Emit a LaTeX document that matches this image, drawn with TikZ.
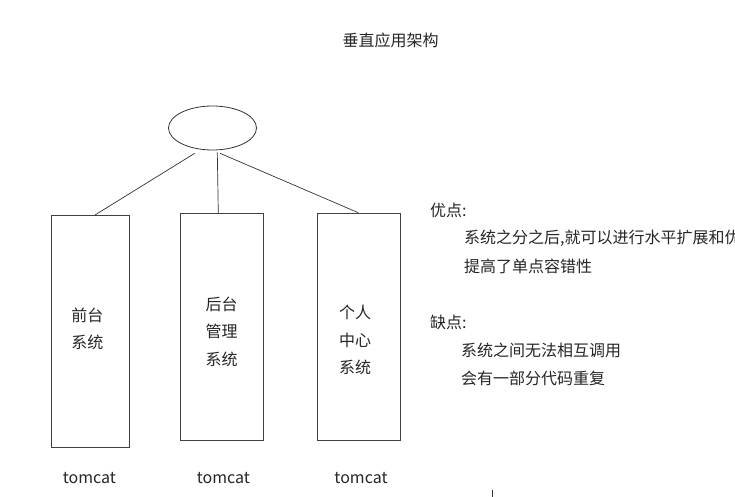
\documentclass[tikz,border=0pt]{standalone}
\usepackage{fontspec}
\setmainfont{Noto Sans CJK SC}
\usetikzlibrary{shapes.geometric}
\begin{document}
\begin{tikzpicture}[x=1pt,y=-1pt,
  sysbox/.style={draw=black!75,line width=0.8pt,rectangle,inner sep=0pt},
  conn/.style={draw=black!80,line width=0.7pt},
  lbl/.style={font=\fontsize{16}{16}\selectfont,text=black!85,inner sep=0pt},
  lbl3/.style={font=\fontsize{16}{27.5}\selectfont,text=black!85,inner sep=0pt,align=center}]
\useasboundingbox[fill=white] (0,0) rectangle (735,497);
\node[lbl] (title) at (390.5,40) {垂直应用架构};
\node[draw=black!80,line width=0.8pt,ellipse,minimum width=88,minimum height=44,inner sep=0pt] (lb) at (212.5,128) {};
\node[sysbox,minimum width=78,minimum height=232] (b1) at (90,331) {};
\node[sysbox,minimum width=83,minimum height=227] (b2) at (221.5,327.2) {};
\node[sysbox,minimum width=83,minimum height=227] (b3) at (358.5,326.4) {};
\coordinate (l1s) at (194.7,153.3);
\coordinate (l2s) at (217.3,152.3);
\coordinate (l3s) at (220,153.3);
\coordinate (l1e) at (95,215);
\coordinate (l2e) at (218.3,213.7);
\coordinate (l3e) at (358.3,212.7);
\draw[conn] (l1s) -- (l1e);
\draw[conn] (l2s) -- (l2e);
\draw[conn] (l3s) -- (l3e);
\node[lbl3] (t1) at (87.3,329) {前台\\系统};
\node[lbl3] (t2) at (221.7,331.7) {后台\\管理\\系统};
\node[lbl3] (t3) at (355,340) {个人\\中心\\系统};
\node[lbl] (tc1) at (89.3,478) {tomcat};
\node[lbl] (tc2) at (223.3,478) {tomcat};
\node[lbl] (tc3) at (361,478) {tomcat};
\node[lbl,anchor=west] (p) at (430,210) {优点:};
\node[lbl,anchor=west] (p1) at (464,238) {系统之分之后,就可以进行水平扩展和优};
\node[lbl,anchor=west] (p2) at (464,266.7) {提高了单点容错性};
\node[lbl,anchor=west] (q) at (430,322.7) {缺点:};
\node[lbl,anchor=west] (q1) at (461,350) {系统之间无法相互调用};
\node[lbl,anchor=west] (q2) at (461,378) {会有一部分代码重复};
\coordinate (m1) at (492.7,490);
\coordinate (m2) at (492.7,497);
\draw[black!80,line width=0.9pt] (m1) -- (m2);
\end{tikzpicture}
\end{document}
